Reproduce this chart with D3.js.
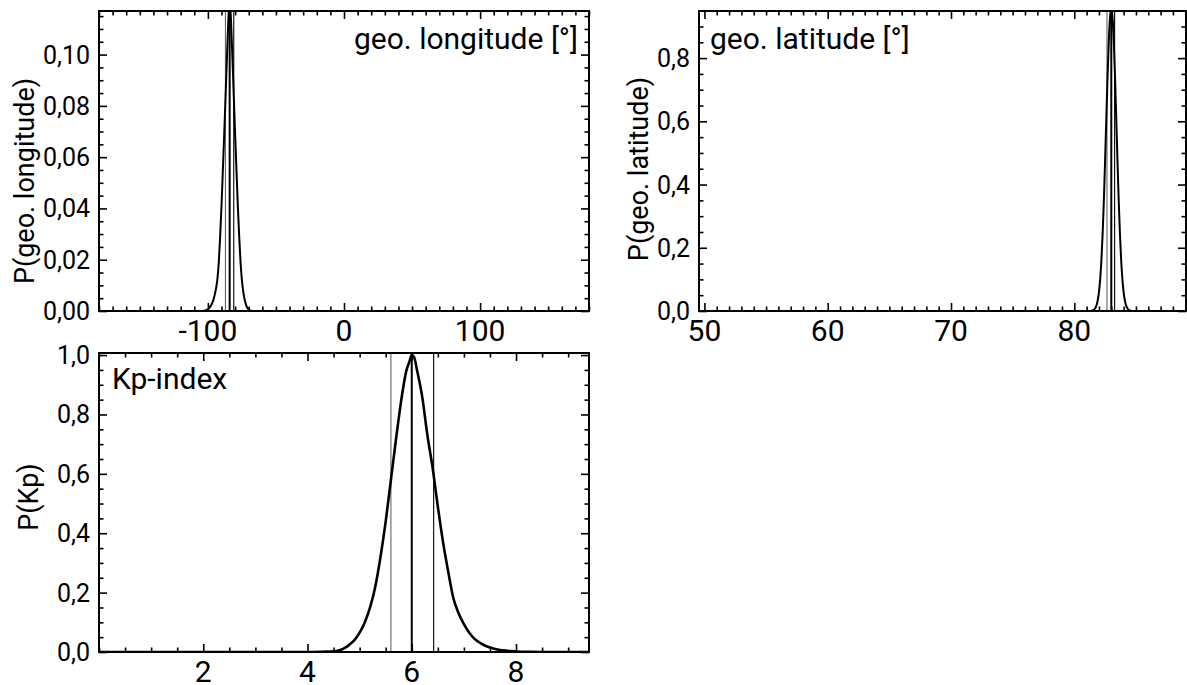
<!DOCTYPE html>
<html><head><meta charset="utf-8">
<script src="https://cdn.jsdelivr.net/npm/d3@7"></script>
<style>
body{margin:0;background:#fff}
svg text{font-family:Roboto,"DejaVu Sans",sans-serif;fill:#000}
</style>
</head><body>
<svg id="c" width="1187" height="685"></svg>
<script>
// ---------- data ----------
const lonX = [-104,-103,-102,-101,-100,-99,-98,-97,-96,-95,-94,-93,-92,-91,-90,-89,-88,-87,-86,-85,-84,-83,-82,-81,-80,-79,-78,-77,-76,-75,-74,-73,-72,-71,-70,-69,-68,-67,-66];
const lonP = [0,0.0001,0.0002,0.0004,0.0007,0.0012,0.0019,0.0029,0.0043,0.0062,0.0088,0.0125,0.019,0.029,0.041,0.055,0.069,0.084,0.099,0.113,0.122,0.113,0.099,0.084,0.069,0.055,0.041,0.029,0.019,0.012,0.0075,0.0045,0.0025,0.0012,0.0005,0.0002,0.0001,0,0];
const lonLines = [-87.1,-84.0,-81.0];

const latX = [81.2,81.3,81.4,81.5,81.6,81.7,81.8,81.9,82.0,82.1,82.2,82.3,82.4,82.5,82.6,82.7,82.8,82.9,83.0,83.1,83.2,83.3,83.4,83.5,83.6,83.7,83.8,83.9,84.0,84.1,84.2,84.3,84.4,84.5,84.6,84.7,84.8];
const latP = [0.0001,0.0003,0.0008,0.0019,0.0042,0.0089,0.0177,0.0335,0.060,0.101,0.162,0.246,0.352,0.478,0.613,0.744,0.855,0.929,0.955,0.929,0.855,0.744,0.613,0.478,0.352,0.246,0.162,0.101,0.060,0.0335,0.0177,0.0089,0.0042,0.0019,0.0008,0.0003,0.0001];
const latLines = [82.65,83.0,83.27];

const kpX = [0,4.0,4.3,4.5,4.6,4.7,4.8,4.9,5.0,5.1,5.2,5.3,5.4,5.5,5.6,5.7,5.8,5.9,5.95,6.0,6.05,6.1,6.2,6.3,6.4,6.5,6.6,6.7,6.8,6.9,7.0,7.1,7.2,7.3,7.4,7.5,7.6,7.7,7.8,7.9,8.0,8.1,8.3,8.6,9.4];
const kpP = [0,0,0.001,0.002,0.005,0.012,0.024,0.04,0.065,0.10,0.15,0.22,0.32,0.44,0.58,0.72,0.85,0.95,0.975,1.0,0.99,0.95,0.86,0.73,0.62,0.49,0.37,0.27,0.18,0.13,0.094,0.066,0.045,0.032,0.022,0.015,0.010,0.007,0.005,0.003,0.002,0.001,0.0005,0,0];
const kpLines = [5.6,6.0,6.42];

const lonXTicks = [-100,0,100];
const lonYTicks = [0,0.02,0.04,0.06,0.08,0.10];
const latXTicks = [50,60,70,80];
const latYTicks = [0,0.2,0.4,0.6,0.8];
const kpXTicks = [2,4,6,8];
const kpYTicks = [0,0.2,0.4,0.6,0.8,1.0];

const panelTitles = ["geo. longitude [°]","geo. latitude [°]","Kp-index"];
const yTitles = ["P(geo. longitude)","P(geo. latitude)","P(Kp)"];

// ---------- layout ----------
const svg = d3.select("#c");
const panels = [
  {x0:99, y0:11, w:490, h:300, xd:[-180,180], yd:[0,0.117], xs:lonX, ys:lonP, lines:lonLines,
   xt:lonXTicks, yt:lonYTicks, xMinorStep:10, yMinorStep:0.005, yDec:2,
   title:panelTitles[0], tAnchor:"end", tx:578, ty:49, yTitle:yTitles[0], ytx:34, yty:181, curveW:2},
  {x0:699, y0:11, w:487, h:300, xd:[49.56,89.06], yd:[0,0.949], xs:latX, ys:latP, lines:latLines,
   xt:latXTicks, yt:latYTicks, xMinorStep:1, yMinorStep:0.05, yDec:1,
   title:panelTitles[1], tAnchor:"start", tx:710, ty:49, yTitle:yTitles[1], ytx:648, yty:169, curveW:2},
  {x0:99, y0:353, w:490, h:299, xd:[0,9.4], yd:[0,1.007], xs:kpX, ys:kpP, lines:kpLines,
   xt:kpXTicks, yt:kpYTicks, xMinorStep:0.5, yMinorStep:0.05, yDec:1,
   title:panelTitles[2], tAnchor:"start", tx:112, ty:389, yTitle:yTitles[2], ytx:38, yty:497, curveW:2.6}
];

panels.forEach((p,i)=>{
  const x = d3.scaleLinear().domain(p.xd).range([p.x0, p.x0+p.w]);
  const y = d3.scaleLinear().domain(p.yd).range([p.y0+p.h, p.y0]);
  const g = svg.append("g");
  const clipId = "clip"+i;
  svg.append("clipPath").attr("id",clipId).append("rect")
    .attr("x",p.x0).attr("y",p.y0).attr("width",p.w).attr("height",p.h);

  const eps = 1e-9;
  const xMinor = d3.range(Math.ceil(p.xd[0]/p.xMinorStep - eps)*p.xMinorStep, p.xd[1]+eps, p.xMinorStep)
      .filter(v=>!p.xt.some(t=>Math.abs(t-v)<1e-6));
  const yMinor = d3.range(0, p.yd[1]+eps, p.yMinorStep)
      .filter(v=>!p.yt.some(t=>Math.abs(t-v)<1e-6));

  const axes = [
    [d3.axisBottom(x), "translate(0,"+(p.y0+p.h)+")", "x"],
    [d3.axisTop(x), "translate(0,"+p.y0+")", "x"],
    [d3.axisLeft(y), "translate("+p.x0+",0)", "y"],
    [d3.axisRight(y), "translate("+(p.x0+p.w)+",0)", "y"]
  ];
  axes.forEach(([ax, tr, dim])=>{
    const maj = dim==="x" ? p.xt : p.yt;
    const min = dim==="x" ? xMinor : yMinor;
    const a1 = g.append("g").attr("transform",tr)
      .call(ax.tickValues(maj).tickSize(-8).tickSizeOuter(0).tickFormat(""));
    a1.select(".domain").remove();
    const a2 = g.append("g").attr("transform",tr)
      .call(ax.tickValues(min).tickSize(-4.5).tickSizeOuter(0).tickFormat(""));
    a2.select(".domain").remove();
  });
  g.selectAll(".tick line").attr("stroke","#000").attr("stroke-width",1.6);

  // curve + lines
  const pts = p.xs.map((v,k)=>[v,p.ys[k]]);
  const plot = g.append("g").attr("clip-path","url(#"+clipId+")");
  plot.selectAll("line.v").data(p.lines).join("line")
    .attr("x1",d=>x(d)).attr("x2",d=>x(d))
    .attr("y1",y(p.yd[0])).attr("y2",y(p.yd[1]))
    .attr("stroke",(d,k)=>k===0?"#666":"#000")
    .attr("stroke-width",(d,k)=>k===1?2:1.1);
  plot.append("path").datum(pts)
    .attr("fill","none").attr("stroke","#000").attr("stroke-width",p.curveW)
    .attr("stroke-linejoin","round")
    .attr("d", d3.line().x(d=>x(d[0])).y(d=>y(d[1])).curve(d3.curveMonotoneX));

  // frame
  g.append("rect").attr("x",p.x0).attr("y",p.y0).attr("width",p.w).attr("height",p.h)
    .attr("fill","none").attr("stroke","#000").attr("stroke-width",2);

  // tick labels
  g.selectAll("text.xl").data(p.xt).join("text")
    .attr("x",d=>x(d)).attr("y",p.y0+p.h+30)
    .attr("text-anchor","middle").style("font-size","30px")
    .text(d=>String(d));
  g.selectAll("text.yl").data(p.yt).join("text")
    .attr("x",p.x0-9).attr("y",d=>y(d)).attr("dy","0.36em")
    .attr("text-anchor","end").style("font-size","25px")
    .text(d=>d.toFixed(p.yDec).replace(".",","));

  // titles
  g.append("text").attr("x",p.tx).attr("y",p.ty).attr("text-anchor",p.tAnchor)
    .style("font-size","30px").text(p.title);
  g.append("text").attr("transform","translate("+p.ytx+","+p.yty+") rotate(-90)")
    .attr("text-anchor","middle").style("font-size","27px").text(p.yTitle);
});
</script>
</body></html>
